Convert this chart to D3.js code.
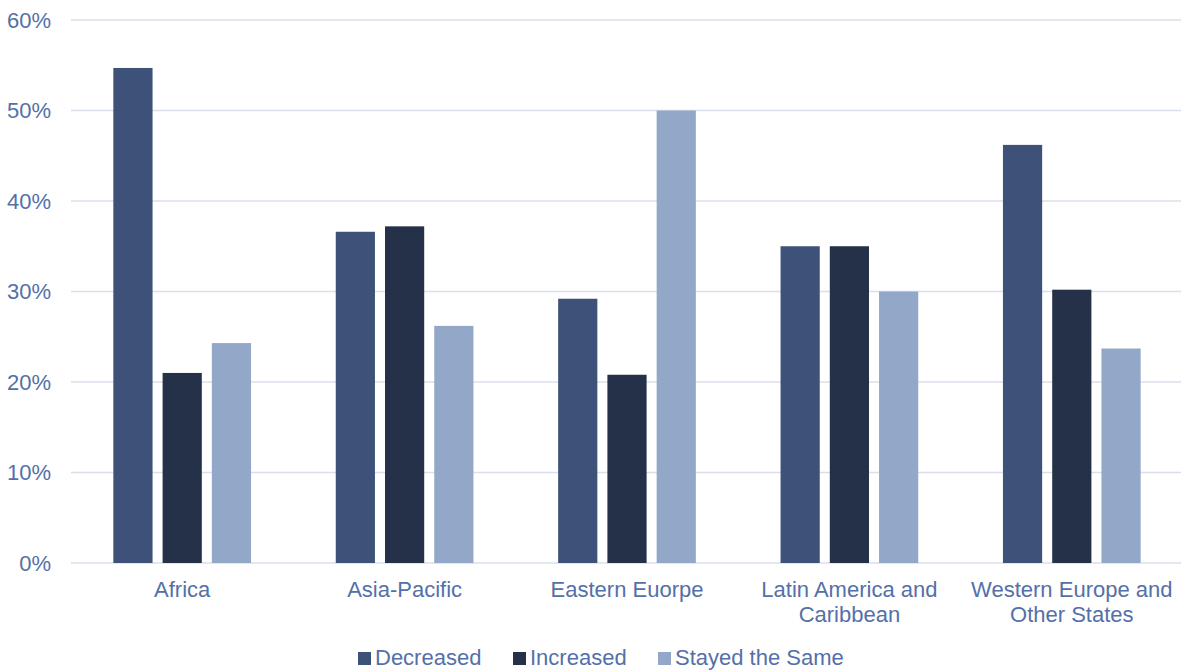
<!DOCTYPE html>
<html><head><meta charset="utf-8">
<script src="https://cdn.jsdelivr.net/npm/d3@7"></script>
<style>body{margin:0;background:#fff}svg{display:block;font-family:"Liberation Sans",Arial,sans-serif}</style>
</head><body><svg id="c" width="1181" height="671"></svg>
<script>
const categories = [["Africa"],["Asia-Pacific"],["Eastern Euorpe"],["Latin America and","Caribbean"],["Western Europe and","Other States"]];
const seriesNames = ["Decreased","Increased","Stayed the Same"];
const decreased = [54.7, 36.6, 29.2, 35.0, 46.2];
const increased = [21.0, 37.2, 20.8, 35.0, 30.2];
const stayed = [24.3, 26.2, 50.0, 30.0, 23.7];
const yTicks = [0,10,20,30,40,50,60];
const colors = ["#3e5178","#253148","#93a8c8"];

(function(){
const series = [decreased, increased, stayed];
const svg = d3.select("#c");
const mL = 71, mR = 1181, mT = 20, mB = 563;
const textColor = "#5470a8";

const x0 = d3.scaleBand().domain(d3.range(categories.length)).range([mL, 1183]).padding(0);
const x1 = d3.scaleBand().domain(d3.range(3)).range([0, x0.bandwidth()]).paddingInner(0.204).paddingOuter(0.86);
const y = d3.scaleLinear().domain([0,60]).range([mB, mT]);

svg.append("g").selectAll("line").data(yTicks).join("line")
  .attr("x1", mL).attr("x2", mR)
  .attr("y1", d=>y(d)).attr("y2", d=>y(d))
  .attr("stroke", "#d9dfeb").attr("stroke-width", 1.5);

svg.append("g").selectAll("text").data(yTicks).join("text")
  .attr("x", 51).attr("y", d=>y(d)).attr("dy","0.36em")
  .attr("text-anchor","end").attr("fill", textColor).attr("font-size", 22)
  .text(d=>d+"%");

const g = svg.append("g");
categories.forEach((c,i)=>{
  series.forEach((s,j)=>{
    g.append("rect")
      .attr("x", x0(i)+x1(j)).attr("width", x1.bandwidth())
      .attr("y", y(s[i])).attr("height", y(0)-y(s[i]))
      .attr("fill", colors[j]);
  });
});

svg.append("g").selectAll("text").data(categories).join("text")
  .attr("x",(d,i)=>x0(i)+x0.bandwidth()/2).attr("y", 597)
  .attr("text-anchor","middle").attr("fill", textColor).attr("font-size", 22)
  .each(function(d){
    const t = d3.select(this);
    d.forEach((line,k)=>t.append("tspan").attr("x", t.attr("x")).attr("dy", k===0?0:25).text(line));
  });

const legX = [358, 513, 658];
const lg = svg.append("g");
seriesNames.forEach((n,j)=>{
  lg.append("rect").attr("x", legX[j]).attr("y", 652).attr("width", 13).attr("height", 13).attr("fill", colors[j]);
  lg.append("text").attr("x", legX[j]+17).attr("y", 665).attr("fill", textColor).attr("font-size", 22).text(n);
});
})();
</script></body></html>
